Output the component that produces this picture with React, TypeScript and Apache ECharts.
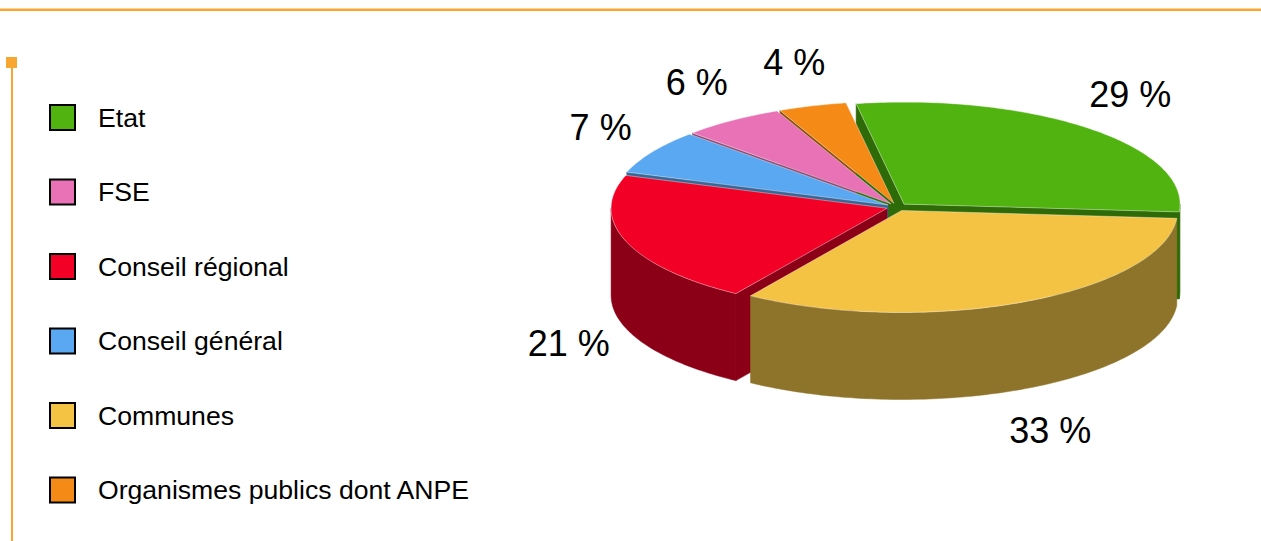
import React, { useEffect, useRef } from "react";
import * as echarts from "echarts";

// ---- data ----
const categories = [
  "Etat",
  "Communes",
  "Conseil régional",
  "Conseil général",
  "FSE",
  "Organismes publics dont ANPE",
];
const values = [29, 33, 21, 7, 6, 4];
const legendOrder = [
  "Etat",
  "FSE",
  "Conseil régional",
  "Conseil général",
  "Communes",
  "Organismes publics dont ANPE",
];

// ---- styles ----
const topColors = ["#50B30F", "#F4C343", "#F20025", "#5AA8F2", "#E972B6", "#F58A17"];
const sideColors = ["#2E6A07", "#8E742A", "#8C0017", "#3A6896", "#8C4A72", "#8C4F0B"];
const ORANGE = "#F7A631";
const FONT = "'Liberation Sans', Arial, Helvetica, sans-serif";

// ---- pie geometry (layout) ----
const CX = 897;
const CY = 207;
const RX = 276;
const RY = 102;
const DEPTH = 87;
const START_ANGLE = -10; // degrees, clockwise from 12 o'clock
const EXPLODE = 0.038;
const LABEL_RX = 1.22;
const LABEL_RY = 1.45;

const rad = (d: number) => (d * Math.PI) / 180;

function buildOption() {
  const total = values.reduce((s, v) => s + v, 0);
  const starts: number[] = [];
  let acc = 0;
  values.forEach((v) => {
    starts.push(START_ANGLE + (acc / total) * 360);
    acc += v;
  });
  const mids = values.map((v, i) => starts[i] + (v / total) * 180);
  const rank = mids
    .map((m, i) => ({ i, c: Math.cos(rad(m)) }))
    .sort((a, b) => b.c - a.c);
  const rankOf: number[] = [];
  rank.forEach((r, k) => {
    rankOf[r.i] = k;
  });

  const series = categories.map((name, i) => ({
    type: "custom",
    name,
    coordinateSystem: "none",
    silent: true,
    itemStyle: { color: topColors[i] },
    data: [[values[i]]],
    renderItem: (params: any, api: any) => {
      const v = api.value(0) as number;
      const a0 = starts[i];
      const a1 = a0 + (v / total) * 360;
      const mid = (a0 + a1) / 2;
      const ox = EXPLODE * RX * Math.sin(rad(mid));
      const oy = -EXPLODE * RY * Math.cos(rad(mid));
      const cx = CX + ox;
      const cy = CY + oy;
      const pt = (deg: number, dz = 0) => [
        cx + RX * Math.sin(rad(deg)),
        cy - RY * Math.cos(rad(deg)) + dz,
      ];
      const arc = (b0: number, b1: number, dz: number) => {
        const n = Math.max(2, Math.ceil(Math.abs(b1 - b0)));
        const pts: number[][] = [];
        for (let k = 0; k <= n; k++) pts.push(pt(b0 + ((b1 - b0) * k) / n, dz));
        return pts;
      };
      const children: any[] = [];
      const side = sideColors[i];
      const zs = rankOf[i];
      // radial cut faces
      if (Math.sin(rad(a0)) < 0) {
        children.push({
          type: "polygon",
          z2: zs,
          shape: { points: [[cx, cy], pt(a0), pt(a0, DEPTH), [cx, cy + DEPTH]] },
          style: { fill: side, stroke: side, lineWidth: 0.5 },
        });
      }
      if (Math.sin(rad(a1)) > 0) {
        children.push({
          type: "polygon",
          z2: zs,
          shape: { points: [[cx, cy], pt(a1), pt(a1, DEPTH), [cx, cy + DEPTH]] },
          style: { fill: side, stroke: side, lineWidth: 0.5 },
        });
      }
      // outer wall (front half only)
      for (let k = -1; k <= 1; k++) {
        const lo = Math.max(a0, 90 + 360 * k);
        const hi = Math.min(a1, 270 + 360 * k);
        if (hi > lo) {
          children.push({
            type: "polygon",
            z2: zs,
            shape: { points: arc(lo, hi, 0).concat(arc(hi, lo, DEPTH)) },
            style: { fill: side, stroke: side, lineWidth: 0.5 },
          });
        }
      }
      // top face
      children.push({
        type: "polygon",
        z2: 100 + zs,
        shape: { points: [[cx, cy]].concat(arc(a0, a1, 0)) },
        style: { fill: topColors[i], stroke: "rgba(255,255,255,0.55)", lineWidth: 0.7 },
      });
      // label
      const c = Math.cos(rad(mid));
      const s = Math.sin(rad(mid));
      const lx = cx + LABEL_RX * RX * s;
      const ly = cy - LABEL_RY * RY * c + (c < 0 ? DEPTH : 0);
      children.push({
        type: "text",
        z2: 200,
        x: lx,
        y: ly,
        style: {
          text: `${v} %`,
          fill: "#000",
          fontSize: 36,
          fontFamily: FONT,
          align: "center",
          verticalAlign: "middle",
          textAlign: "center",
          textVerticalAlign: "middle",
        },
      });
      return { type: "group", children };
    },
  }));

  return {
    animation: false,
    backgroundColor: "#ffffff",
    legend: {
      orient: "vertical",
      left: 44,
      top: 99,
      data: legendOrder,
      icon: "rect",
      itemWidth: 25,
      itemHeight: 25,
      itemGap: 47.5,
      selectedMode: false,
      itemStyle: { borderColor: "#000", borderWidth: 2 },
      textStyle: {
        fontSize: 26.6,
        lineHeight: 26,
        color: "#000",
        fontFamily: FONT,
        padding: [0, 0, 0, 18],
      },
    },
    graphic: [
      {
        type: "rect",
        shape: { x: 0, y: 8.5, width: 1261, height: 2.5 },
        style: { fill: ORANGE },
        silent: true,
      },
      {
        type: "rect",
        shape: { x: 11, y: 62, width: 2, height: 479 },
        style: { fill: ORANGE },
        silent: true,
      },
      {
        type: "rect",
        shape: { x: 6, y: 57, width: 11, height: 11 },
        style: { fill: ORANGE },
        silent: true,
      },
    ],
    series,
  };
}

export default function App() {
  const ref = useRef<HTMLDivElement>(null);
  useEffect(() => {
    if (!ref.current) return;
    const chart = echarts.init(ref.current, undefined, { renderer: "svg" });
    chart.setOption(buildOption() as any);
    return () => chart.dispose();
  }, []);
  return (
    <div
      ref={ref}
      style={{ position: "fixed", left: 0, top: 0, width: 1261, height: 541, background: "#fff" }}
    />
  );
}
